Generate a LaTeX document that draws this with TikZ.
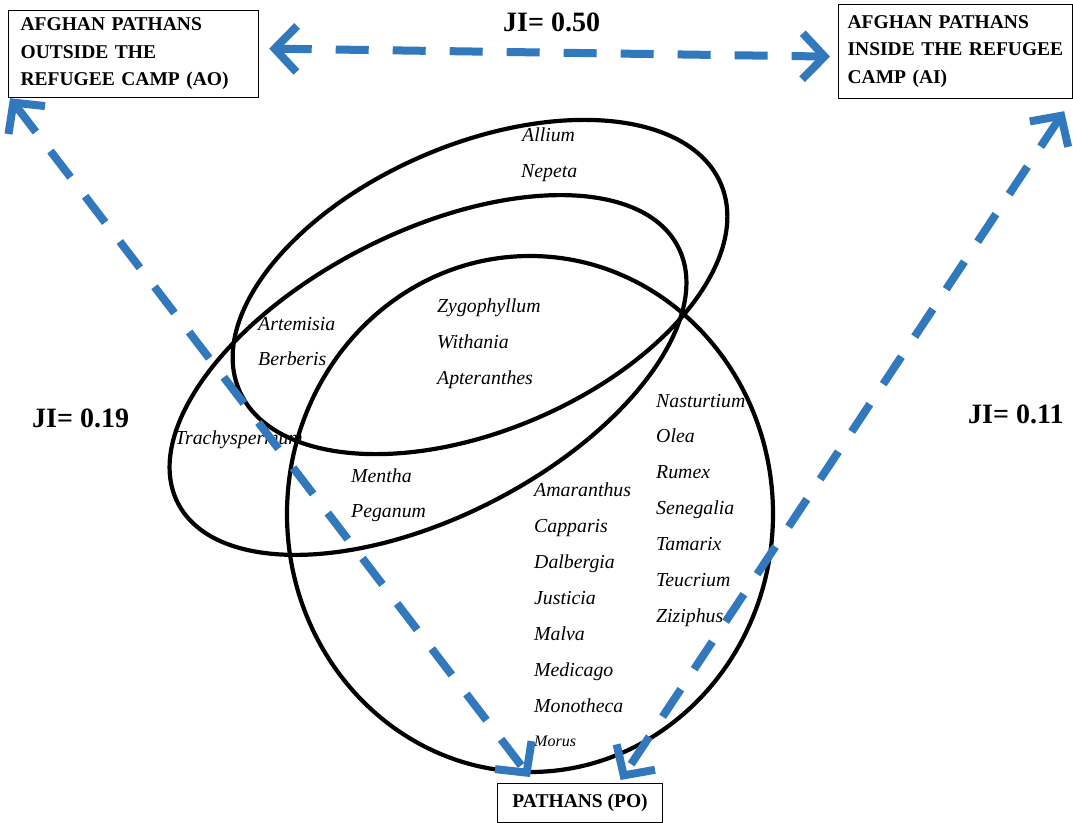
\documentclass[tikz,border=0pt]{standalone}
\usepackage{fontspec}
\setmainfont{Liberation Serif}
\usetikzlibrary{arrows.meta,calc}
\definecolor{jiblue}{HTML}{3178BC}
\begin{document}
\begin{tikzpicture}[x=1pt,y=1pt,
  boxnode/.style={draw, line width=1.2pt, font=\fontsize{19.5}{27.5}\selectfont\bfseries, align=left, inner sep=0pt},
  species/.style={font=\fontsize{19.8}{22}\selectfont\itshape, anchor=west, inner sep=0pt, text height=12pt, text depth=0pt},
  smallspecies/.style={species, font=\fontsize{16}{18}\selectfont\itshape},
  jilabel/.style={font=\fontsize{28}{32}\selectfont\bfseries, anchor=west, inner sep=0pt},
  setline/.style={line width=4.2pt},
  jiarrow/.style={jiblue, line width=8pt, dash pattern=on 33pt off 24pt,
    {Straight Barb[length=22pt,width=46pt]}-{Straight Barb[length=22pt,width=46pt]}}
]
\useasboundingbox (0,0) rectangle (1073,-822);

% sets
\draw[setline, rotate around={23.2:(480,-287)}] (480,-287) ellipse [x radius=262, y radius=143];
\draw[setline, rotate around={27.1:(428,-375)}] (428,-375) ellipse [x radius=281, y radius=142];
\draw[setline] (530,-514) ellipse [x radius=243, y radius=258];

% boxes
\node[boxnode, minimum width=250, minimum height=87, anchor=north west, text width=226] (AO) at (8,-10)
  {AFGHAN PATHANS\\OUTSIDE THE\\REFUGEE CAMP (AO)};
\node[boxnode, minimum width=234, minimum height=94, anchor=north west, text width=216] (AI) at (838,-4)
  {AFGHAN PATHANS\\INSIDE THE REFUGEE\\CAMP (AI)};
\node[boxnode, minimum width=165, minimum height=39, anchor=north west, align=center] (PO) at (497,-783)
  {PATHANS (PO)};

% JI labels
\node[jilabel] (ji50) at (503,-22) {JI= 0.50};
\node[jilabel] (ji19) at (32,-418) {JI= 0.19};
\node[jilabel] (ji11) at (968,-414) {JI= 0.11};

% species
\node[species] (allium) at (522,-135) {Allium};
\node[species] (nepeta) at (521,-171) {Nepeta};
\node[species] (zygo) at (437,-306) {Zygophyllum};
\node[species] (withania) at (437,-342) {Withania};
\node[species] (apter) at (437,-378) {Apteranthes};
\node[species] (artem) at (258,-324) {Artemisia};
\node[species] (berb) at (258,-359) {Berberis};
\node[species] (trachy) at (175,-438) {Trachyspermum};
\node[species] (mentha) at (351,-476) {Mentha};
\node[species] (peganum) at (351,-511) {Peganum};
\node[species] (nast) at (656,-401) {Nasturtium};
\node[species] (olea) at (656,-436) {Olea};
\node[species] (rumex) at (656,-472) {Rumex};
\node[species] (seneg) at (656,-508) {Senegalia};
\node[species] (tamarix) at (656,-544) {Tamarix};
\node[species] (teuc) at (656,-580) {Teucrium};
\node[species] (zizi) at (656,-616) {Ziziphus};
\node[species] (amar) at (534,-490) {Amaranthus};
\node[species] (capp) at (534,-526) {Capparis};
\node[species] (dalb) at (534,-562) {Dalbergia};
\node[species] (just) at (534,-598) {Justicia};
\node[species] (malva) at (534,-634) {Malva};
\node[species] (medic) at (534,-670) {Medicago};
\node[species] (mono) at (534,-706) {Monotheca};
\node[smallspecies] (morus) at (534,-740) {Morus};

% connectors
\draw[jiarrow] ($(AO.east)+(10,5.5)$) -- ($(AI.west)+(-8,-5)$);
\draw[jiarrow] ($(AO.south west)+(2,0)$) -- ($(PO.north west)+(33,6)$);
\draw[jiarrow] ($(AI.south east)+(-9,-12)$) -- ($(PO.north)+(40.5,3)$);
\end{tikzpicture}
\end{document}
